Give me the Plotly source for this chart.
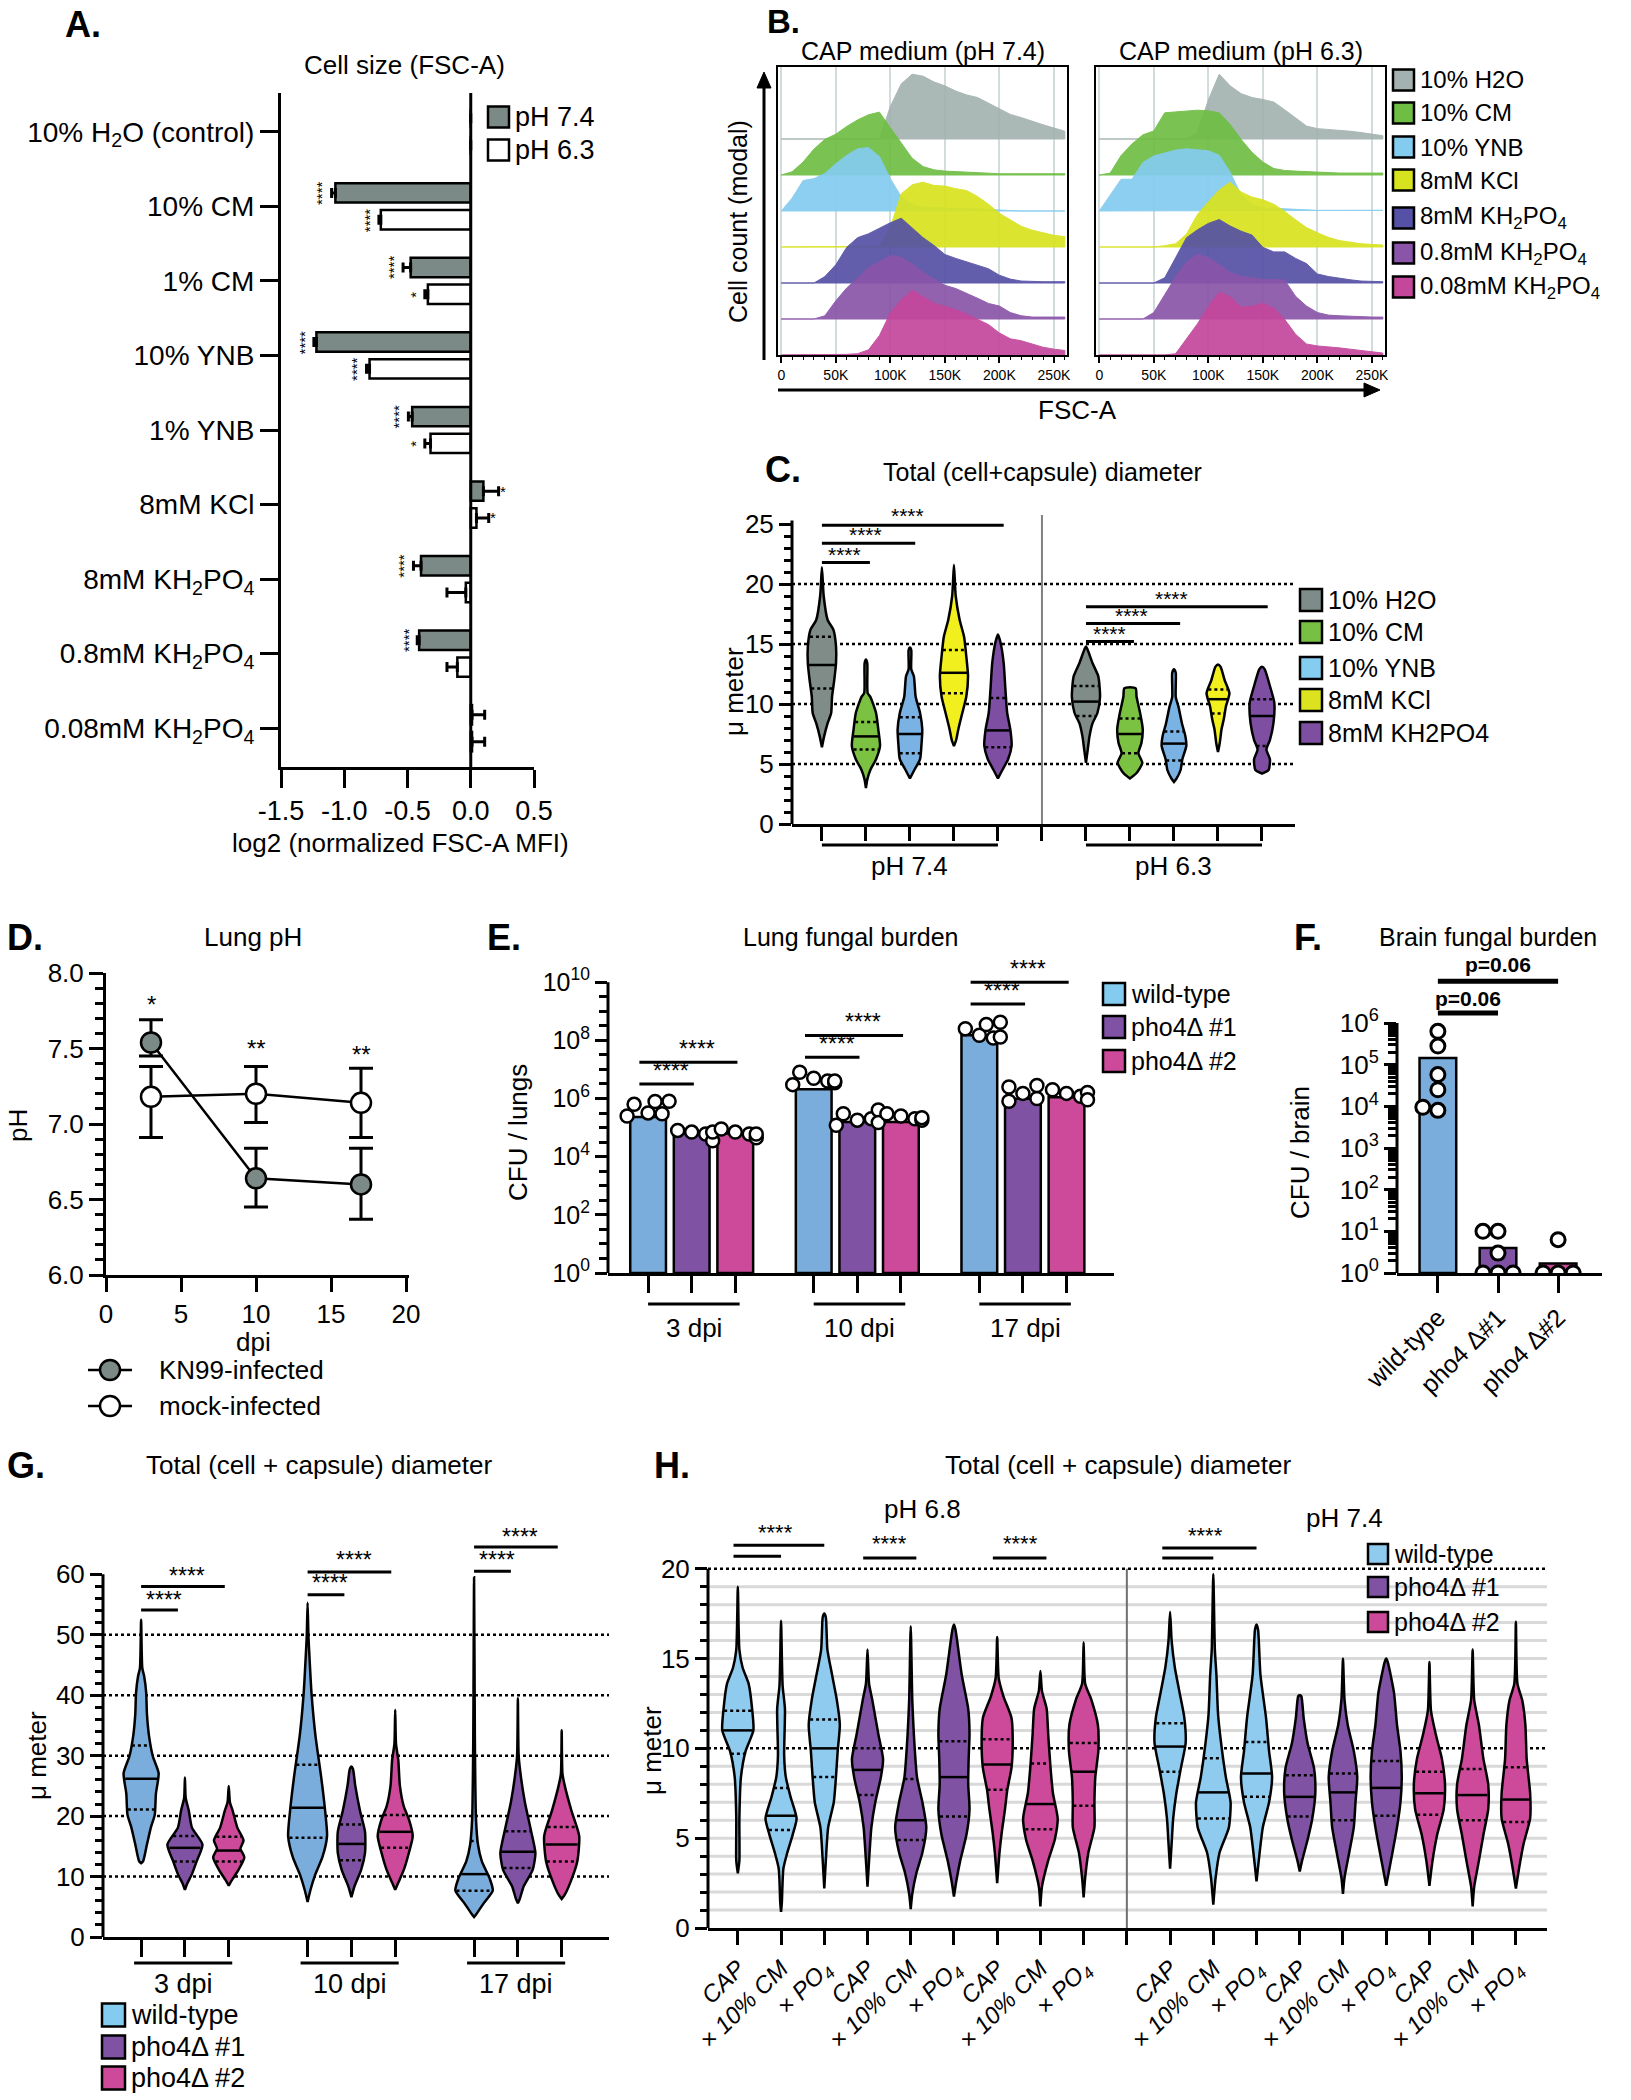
import numpy as np
import plotly.graph_objects as go

FIG_W, FIG_H = 1631, 2100
FONT = "Arial, Liberation Sans, Helvetica, sans-serif"

# ---------------- A. cell size (FSC-A) ----------------
A_labels = ['10% H<sub>2</sub>O (control)', '10% CM', '1% CM', '10% YNB', '1% YNB', '8mM KCl',
            '8mM KH<sub>2</sub>PO<sub>4</sub>', '0.8mM KH<sub>2</sub>PO<sub>4</sub>',
            '0.08mM KH<sub>2</sub>PO<sub>4</sub>']
A_ph74 = [0, -1.07, -0.475, -1.22, -0.463, 0.10, -0.393, -0.408, 0.01]
A_ph74_err = [0, 0.03, 0.06, 0.02, 0.03, 0.12, 0.06, 0.015, 0.10]
A_ph74_sig = ['', '****', '****', '****', '****', '*', '****', '****', '']
A_ph63 = [0, -0.711, -0.339, -0.80, -0.318, 0.045, -0.039, -0.106, 0.01]
A_ph63_err = [0, 0.015, 0.024, 0.024, 0.045, 0.097, 0.149, 0.082, 0.10]
A_ph63_sig = ['', '****', '*', '****', '*', '*', '', '', '']

# ---------------- B. FSC-A histograms (% of mode) ----------------
B_fsc_k = [0, 10, 20, 30, 40, 50, 60, 70, 80, 90, 100, 110, 120, 130, 140, 150, 160, 170, 180,
           190, 200, 210, 220, 230, 240, 250, 260]
B_labels = ['10% H2O', '10% CM', '10% YNB', '8mM KCl', '8mM KH<sub>2</sub>PO<sub>4</sub>',
            '0.8mM KH<sub>2</sub>PO<sub>4</sub>', '0.08mM KH<sub>2</sub>PO<sub>4</sub>']
B74_h2o = [0, 0, 0, 0, 0, 0, 0, 0, 0, 0, 50, 85, 100, 97, 88, 82, 74, 68, 64, 55, 46, 38, 33, 27, 22, 17, 12]
B74_cm = [0, 5, 20, 40, 55, 63, 75, 85, 93, 97, 73, 49, 26, 13, 8, 6, 5, 4, 3, 3, 2, 2, 2, 2, 2, 2, 2]
B74_ynb = [0, 20, 47, 50, 58, 73, 86, 96, 98, 84, 50, 22, 10, 6, 5, 5, 4, 4, 3, 2, 1, 0, 0, 0, 0, 0, 0]
B74_kcl = [0, 0, 0, 0, 1, 1, 1, 1, 1, 1, 30, 82, 96, 100, 95, 94, 90, 87, 78, 66, 52, 42, 32, 26, 22, 18, 16]
B74_kh8 = [0, 0, 0, 0, 10, 28, 55, 70, 76, 85, 93, 100, 85, 70, 58, 44, 38, 33, 28, 22, 12, 6, 3, 2, 2, 2, 2]
B74_kh08 = [0, 0, 0, 0, 5, 28, 48, 63, 80, 88, 98, 95, 85, 72, 62, 52, 47, 40, 32, 24, 20, 10, 5, 3, 3, 3, 3]
B74_kh008 = [0, 0, 0, 0, 0, 0, 1, 2, 8, 30, 65, 85, 100, 90, 80, 75, 70, 63, 55, 47, 34, 25, 22, 17, 12, 9, 7]
B63_h2o = [0, 0, 0, 0, 0, 0, 0, 0, 0, 10, 60, 100, 82, 70, 64, 61, 57, 45, 32, 20, 16, 15, 13, 12, 10, 7, 5]
B63_cm = [0, 3, 30, 48, 62, 68, 96, 97, 98, 100, 99, 96, 78, 55, 35, 20, 10, 7, 6, 5, 4, 3, 3, 3, 3, 3, 3]
B63_ynb = [0, 25, 49, 49, 75, 85, 90, 94, 96, 95, 93, 86, 60, 25, 10, 5, 4, 3, 2, 2, 1, 1, 1, 1, 1, 1, 1]
B63_kcl = [0, 0, 0, 0, 0, 0, 2, 5, 20, 50, 70, 88, 100, 85, 77, 73, 66, 55, 42, 30, 22, 15, 10, 7, 5, 4, 3]
B63_kh8 = [0, 0, 0, 0, 0, 0, 8, 40, 70, 82, 92, 98, 88, 80, 74, 55, 48, 48, 38, 30, 14, 10, 7, 5, 3, 2, 2]
B63_kh08 = [0, 0, 0, 0, 0, 10, 38, 65, 88, 100, 95, 83, 72, 66, 63, 61, 61, 60, 35, 20, 10, 6, 5, 4, 3, 3, 3]
B63_kh008 = [0, 0, 0, 0, 0, 0, 0, 2, 25, 48, 75, 97, 90, 74, 75, 80, 72, 55, 32, 17, 14, 13, 11, 9, 7, 5, 3]

# ---------------- C. total diameter, violins (value, half-width) ----------------
C_labels = ['10% H2O', '10% CM', '10% YNB', '8mM KCl', '8mM KH2PO4']
C_h2o_74 = [(21.4, 0), (19.0, .04), (17.0, .13), (16.2, .26), (14.8, .32), (13.4, .32), (12.0, .28),
            (10.6, .23), (9.25, .21), (8.4, .13), (7.3, .05), (6.4, 0)]
C_cm_74 = [(13.7, 0), (13.4, .03), (10.9, .04), (10.6, .10), (9.25, .23), (7.9, .28), (6.5, .32),
           (5.4, .23), (4.5, .10), (3.7, .03), (3.0, 0)]
C_ynb_74 = [(14.7, 0), (14.5, .03), (12.9, .03), (12.3, .09), (10.6, .13), (9.25, .23), (7.9, .28),
            (6.5, .26), (5.4, .23), (4.5, .10), (3.8, 0)]
C_kcl_74 = [(21.6, 0), (19.0, .04), (17.0, .13), (15.6, .23), (14.0, .28), (12.3, .32), (10.6, .28),
            (9.25, .19), (7.9, .10), (7.0, .05), (6.5, 0)]
C_kh_74 = [(15.8, 0), (15.1, .06), (13.4, .13), (11.2, .17), (9.25, .21), (7.9, .28), (6.5, .31),
           (5.4, .23), (4.5, .10), (3.8, 0)]
C_h2o_63 = [(14.8, 0), (14.5, .04), (13.4, .15), (12.3, .28), (10.6, .32), (9.25, .26), (8.4, .15),
            (7.3, .08), (6.2, .04), (5.1, 0)]
C_cm_63 = [(11.4, 0), (11.3, .13), (10.6, .15), (9.25, .23), (7.9, .29), (6.75, .26), (5.9, .19),
           (5.1, .28), (4.25, .15), (3.8, 0)]
C_ynb_63 = [(12.9, 0), (12.6, .04), (10.6, .04), (9.8, .10), (8.4, .18), (7.3, .26), (6.5, .28),
            (5.4, .19), (4.5, .15), (3.8, .06), (3.5, 0)]
C_kcl_63 = [(13.3, 0), (13.1, .06), (12.0, .15), (10.9, .26), (9.8, .18), (8.7, .13), (7.9, .08),
            (6.75, .04), (6.0, 0)]
C_kh_63 = [(13.1, 0), (12.9, .06), (11.5, .18), (10.1, .28), (8.4, .26), (7.0, .18), (6.2, .10),
           (5.4, .18), (4.5, .15), (4.2, 0)]
C_q1 = [11.3, 6.2, 5.9, 10.9, 6.4, 9.0, 5.9, 5.3, 9.2, 6.5]
C_median = [13.25, 7.3, 7.5, 12.6, 7.8, 10.2, 7.5, 6.7, 10.4, 9.0]
C_q3 = [15.6, 8.5, 8.9, 14.5, 10.5, 11.5, 8.8, 7.7, 11.2, 10.4]

# ---------------- D. lung pH ----------------
D_dpi = [3, 10, 17]
D_kn99 = [7.54, 6.64, 6.60]
D_kn99_up = [0.15, 0.20, 0.24]
D_kn99_dn = [0.09, 0.19, 0.23]
D_mock = [7.18, 7.20, 7.14]
D_mock_up = [0.20, 0.18, 0.23]
D_mock_dn = [0.27, 0.19, 0.23]
D_sig = ['*', '**', '**']
D_sig_y = [7.79, 7.50, 7.46]

# ---------------- E. lung fungal burden (CFU) ----------------
E_days = ['3 dpi', '10 dpi', '17 dpi']
E_strains = ['wild-type', 'pho4Δ #1', 'pho4Δ #2']
E_bar = [2.3e5, 6.2e4, 6.2e4, 2.1e6, 1.55e5, 1.55e5, 1.5e8, 9.8e5, 1.1e6]
E_wt_3 = [3.2e5, 6.3e5, 7.9e5, 8.0e5, 3.0e5, 2.5e5]
E_p1_3 = [7.0e4, 8.0e4, 6.0e4, 3.5e4, 7.0e4]
E_p2_3 = [7.0e4, 9.0e4, 6.0e4, 4.5e4, 6.0e4]
E_wt_10 = [5.0e6, 8.0e6, 4.0e6, 3.5e6, 3.0e6, 4.0e6]
E_p1_10 = [1.8e5, 3.0e5, 2.0e5, 4.0e5, 1.2e5, 1.5e5]
E_p2_10 = [2.5e5, 3.0e5, 2.0e5, 1.8e5, 2.2e5]
E_wt_17 = [1.5e8, 2.5e8, 1.2e8, 3.5e8, 1.3e8, 4.2e8]
E_p1_17 = [1.5e6, 2.5e6, 1.0e6, 2.8e6, 8.0e5]
E_p2_17 = [1.5e6, 2.0e6, 1.2e6, 1.6e6, 9.0e5]

# ---------------- F. brain fungal burden (CFU) ----------------
F_labels = ['wild-type', 'pho4 Δ#1', 'pho4 Δ#2']
F_bar = [1.45e5, 4.0, 1.7]
F_wt = [6.3e5, 2.8e5, 5.8e4, 2.5e4, 8.0e3, 9.5e3]
F_p1 = [10, 10, 3, 1, 1, 1]
F_p2 = [6.3, 1, 1, 1]

# ---------------- G. in vivo diameter, violins ----------------
G_wt_3 = [(52.5, 0), (44.5, .027), (43.1, .071), (40.4, .116), (36.9, .133), (33.4, .178), (29.9, .267),
          (27.1, .40), (23.7, .338), (20.2, .311), (18.1, .222), (15.3, .133), (12.5, .044), (12.2, 0)]
G_p1_3 = [(26.4, 0), (23.0, .018), (20.9, .089), (18.1, .16), (15.3, .40), (12.5, .267), (10.4, .16),
          (8.7, .044), (7.8, 0)]
G_p2_3 = [(25.0, 0), (22.3, .027), (20.9, .089), (18.1, .196), (16.0, .338), (14.6, .267), (13.2, .356),
          (11.1, .222), (9.4, .071), (8.5, 0)]
G_wt_10 = [(55.3, 0), (50.0, .018), (47.3, .036), (40.4, .089), (33.4, .178), (26.4, .311), (20.9, .40),
           (16.7, .444), (13.2, .338), (10.4, .178), (7.7, .062), (5.8, 0)]
G_p1_10 = [(28.2, 0), (27.8, .036), (25.0, .089), (20.9, .196), (17.4, .311), (13.9, .311), (11.1, .222),
           (8.4, .071), (6.6, 0)]
G_p2_10 = [(37.6, 0), (32.0, .018), (29.2, .071), (25.0, .107), (21.6, .196), (19.5, .311), (16.7, .40),
           (13.9, .311), (11.1, .196), (9.0, .071), (7.8, 0)]
G_wt_17 = [(59.5, 0), (33.0, .018), (26.4, .027), (19.5, .044), (15.3, .089), (12.5, .178), (9.7, .356),
           (7.7, .427), (5.6, .222), (3.8, .053), (3.3, 0)]
G_p1_17 = [(39.5, 0), (30.0, .018), (26.4, .071), (22.3, .16), (18.1, .284), (13.9, .40), (11.1, .338),
           (8.4, .133), (6.3, .044), (5.6, 0)]
G_p2_17 = [(34.2, 0), (27.0, .018), (25.0, .071), (20.9, .222), (16.7, .40), (12.5, .356), (9.0, .196),
           (7.0, .071), (6.3, 0)]
G_q1 = [21.1, 12.5, 12.5, 16.4, 12.7, 14.75, 7.65, 11.4, 12.5]
G_median = [26.2, 14.75, 14.3, 21.4, 15.4, 17.4, 10.4, 14.1, 15.3]
G_q3 = [31.7, 16.7, 16.6, 28.5, 18.6, 20.2, 15.9, 17.5, 18.2]

# ---------------- H. in vitro diameter, violins ----------------
H_media = ['<i>CAP</i>', '<i>× 10% CM</i>', '<i>× PO<sub>4</sub></i>']
H_v = [
    [(19.0, 0), (15.5, .036), (14.5, .11), (13.6, .25), (12.2, .33), (11.0, .36), (9.85, .18), (8.4, .072), (6.1, .036), (3.75, .036), (3.05, 0)],
    [(17.1, 0), (13.5, .036), (12.2, .09), (9.6, .072), (8.4, .11), (7.3, .22), (6.1, .36), (5.2, .27), (4.2, .145), (3.3, .054), (1.4, .018), (0.9, 0)],
    [(17.5, 0), (17.3, .036), (15.5, .072), (14.1, .18), (12.7, .29), (11.3, .36), (9.85, .31), (8.4, .27), (7.0, .22), (5.6, .09), (3.75, .036), (2.2, 0)],
    [(15.5, 0), (13.6, .036), (12.7, .11), (10.8, .25), (9.4, .36), (8.4, .31), (7.0, .18), (5.6, .09), (3.75, .036), (2.3, 0)],
    [(16.8, 0), (12.7, .036), (10.8, .072), (8.4, .145), (7.0, .27), (5.6, .36), (4.2, .27), (3.05, .13), (1.9, .036), (1.05, 0)],
    [(16.9, 0), (16.6, .036), (14.1, .18), (12.2, .33), (10.8, .36), (9.4, .34), (8.0, .33), (6.6, .36), (5.2, .29), (3.75, .145), (2.6, .054), (1.75, 0)],
    [(16.2, 0), (13.9, .036), (12.9, .145), (11.7, .33), (10.3, .36), (8.9, .33), (7.7, .235), (6.6, .18), (5.4, .11), (4.2, .054), (2.5, 0)],
    [(14.3, 0), (13.2, .036), (12.2, .145), (10.8, .18), (8.9, .235), (7.5, .29), (6.1, .40), (4.9, .33), (3.75, .18), (2.3, .036), (1.2, 0)],
    [(15.9, 0), (13.6, .036), (12.7, .18), (11.3, .33), (9.85, .34), (8.4, .27), (7.0, .25), (5.6, .25), (4.2, .11), (2.8, .036), (1.7, 0)],
    [(17.6, 0), (16.0, .036), (14.5, .11), (13.1, .22), (11.7, .33), (10.3, .36), (8.9, .25), (7.5, .145), (6.1, .072), (4.7, .036), (3.3, 0)],
    [(19.7, 0), (15.5, .036), (14.1, .072), (11.9, .11), (10.3, .18), (8.4, .29), (7.0, .40), (5.6, .36), (4.2, .145), (2.8, .054), (1.3, 0)],
    [(16.9, 0), (16.6, .036), (14.1, .09), (11.7, .22), (9.85, .29), (8.4, .36), (7.0, .29), (5.6, .145), (4.2, .072), (2.6, 0)],
    [(12.95, 0), (12.9, .036), (11.7, .09), (10.3, .18), (8.9, .33), (7.5, .36), (6.1, .29), (4.9, .18), (3.75, .054), (3.15, 0)],
    [(15.0, 0), (12.7, .036), (11.3, .11), (9.85, .25), (8.4, .33), (7.0, .29), (5.6, .25), (4.2, .145), (2.8, .036), (1.9, 0)],
    [(15.0, 0), (14.8, .036), (13.1, .18), (11.3, .25), (9.85, .33), (8.4, .36), (7.0, .33), (5.6, .25), (4.2, .145), (3.05, .054), (2.35, 0)],
    [(14.8, 0), (12.1, .036), (10.8, .145), (9.4, .29), (8.0, .36), (6.6, .33), (5.2, .18), (3.75, .072), (2.35, 0)],
    [(15.5, 0), (12.7, .036), (11.3, .145), (9.4, .25), (8.0, .36), (6.6, .36), (5.2, .25), (3.75, .145), (2.3, .036), (1.2, 0)],
    [(17.05, 0), (13.6, .036), (12.7, .145), (11.3, .22), (9.4, .25), (7.5, .33), (6.1, .33), (4.7, .18), (3.3, .072), (2.2, 0)],
]
H_q1 = [9.7, 5.45, 8.4, 7.4, 4.9, 6.2, 7.7, 5.5, 6.8, 8.7, 6.1, 7.3, 6.2, 6.0, 6.25, 6.3, 6.0, 5.9]
H_median = [11.0, 6.25, 10.0, 8.8, 6.0, 8.4, 9.1, 6.9, 8.7, 10.1, 7.55, 8.6, 7.3, 7.55, 7.8, 7.5, 7.4, 7.15]
H_q3 = [12.1, 7.8, 11.6, 10.0, 8.3, 10.4, 10.5, 9.15, 10.3, 11.4, 9.45, 10.35, 8.5, 8.6, 9.3, 8.7, 8.85, 8.95]

# ---------------- colours ----------------
GREY = '#7b8a86'
B_colors = ['#a3b2b0', '#6fbe44', '#84ccef', '#d8e31f', '#5551a6', '#8a55a9', '#c4479c']
C_colors = ['#7f8c88', '#7cc242', '#7ab2e3', '#f2ef1f', '#7e4ea3']
C_leg = ['#7e8c89', '#78c043', '#85cdf0', '#dce21e', '#7e4fa1']
WT, P1, P2 = '#7aacdc', '#7f52a3', '#cc4a99'
H_WT = '#8fcbef'

fig = go.Figure()
shapes, annos, axes = [], [], {}


def add_axes(n, xdom, ydom, xkw, ykw):
    xr = 'x' if n == 1 else f'x{n}'
    yr = 'y' if n == 1 else f'y{n}'
    for key, dom, anchor, kw in (('xaxis', [xdom[0] / FIG_W, xdom[1] / FIG_W], yr, xkw),
                                 ('yaxis', [1 - ydom[1] / FIG_H, 1 - ydom[0] / FIG_H], xr, ykw)):
        d = dict(showline=True, linecolor='black', linewidth=3, ticks='outside', tickcolor='black',
                 tickwidth=3, ticklen=14, showgrid=False, zeroline=False, automargin=False,
                 tickfont=dict(size=26, family=FONT, color='black'))
        d.update(kw)
        d['domain'] = dom
        d['anchor'] = anchor
        axes[key if n == 1 else f'{key}{n}'] = d
    return xr, yr


def text(x, y, s, size=26, xanchor='center', angle=0, bold=False):
    annos.append(dict(x=x / FIG_W, y=1 - y / FIG_H, xref='paper', yref='paper', showarrow=False,
                      text=f'<b>{s}</b>' if bold else s, xanchor=xanchor, yanchor='middle',
                      textangle=angle, font=dict(size=size, family=FONT, color='black')))


def dtext(xr, yr, x, y, s, size=22, angle=0, bold=False, xanchor='center'):
    annos.append(dict(x=x, y=y, xref=xr, yref=yr, showarrow=False, text=f'<b>{s}</b>' if bold else s,
                      textangle=angle, xanchor=xanchor, yanchor='middle',
                      font=dict(size=size, family=FONT, color='black')))


def group_label(xr, x, y, s, size=26):
    annos.append(dict(x=x, y=1 - y / FIG_H, xref=xr, yref='paper', showarrow=False, text=s,
                      xanchor='center', yanchor='middle', font=dict(size=size, family=FONT, color='black')))


def line(xr, yr, x0, x1, y0, y1, width=3, color='black', dash='solid', layer='above'):
    shapes.append(dict(type='line', xref=xr, yref=yr, x0=x0, x1=x1, y0=y0, y1=y1, layer=layer,
                       line=dict(color=color, width=width, dash=dash)))


def pline(x0, y0, x1, y1, width=3):
    line('paper', 'paper', x0 / FIG_W, x1 / FIG_W, 1 - y0 / FIG_H, 1 - y1 / FIG_H, width)


def ppath(points):
    d = 'M ' + ' L '.join(f'{x / FIG_W:.5f},{1 - y / FIG_H:.5f}' for x, y in points) + ' Z'
    shapes.append(dict(type='path', xref='paper', yref='paper', path=d, fillcolor='black',
                       line=dict(color='black', width=1)))


def legend_box(x, y, size, color, label, fsize=25):
    shapes.append(dict(type='rect', xref='paper', yref='paper', x0=x / FIG_W, x1=(x + size) / FIG_W,
                       y0=1 - (y + size / 2) / FIG_H, y1=1 - (y - size / 2) / FIG_H,
                       fillcolor=color, line=dict(color='black', width=2.5)))
    text(x + size + 4, y, label, fsize, xanchor='left')


def violins(xr, yr, centers, profiles, q1s, meds, q3s, colors):
    mx, my, qx, qy = [], [], [], []
    for xc, prof, q1, m, q3, col in zip(centers, profiles, q1s, meds, q3s, colors):
        ys = [p[0] for p in prof]
        ws = [p[1] for p in prof]
        xs = [xc + w for w in ws] + [xc - w for w in ws[::-1]]
        fig.add_trace(go.Scatter(x=xs, y=ys + ys[::-1], mode='lines', fill='toself', fillcolor=col,
                                 line=dict(color='black', width=2.5, shape='spline', smoothing=0.6),
                                 xaxis=xr, yaxis=yr, hoverinfo='skip'))
        ya, wa = ys[::-1], ws[::-1]
        for lvl, tx, ty in ((m, mx, my), (q1, qx, qy), (q3, qx, qy)):
            w = float(np.interp(lvl, ya, wa)) * 0.95
            tx += [xc - w, xc + w, None]
            ty += [lvl, lvl, None]
    fig.add_trace(go.Scatter(x=mx, y=my, mode='lines', line=dict(color='black', width=2.5),
                             xaxis=xr, yaxis=yr, hoverinfo='skip'))
    fig.add_trace(go.Scatter(x=qx, y=qy, mode='lines', line=dict(color='black', width=2.5, dash='dot'),
                             xaxis=xr, yaxis=yr, hoverinfo='skip'))


def swarm(vals, xc, xscale, yscale, diam):
    placed, xs = [], []
    for v in vals:
        for k in [0, -1, 1, -2, 2, -3, 3]:
            dx = k * 0.5 * diam / xscale
            if all(((dx - a) * xscale) ** 2 + ((v - b) * yscale) ** 2 >= (0.9 * diam) ** 2 for a, b in placed):
                break
        placed.append((dx, v))
        xs.append(xc + dx)
    return xs


# ======================= A =======================
xa, ya = add_axes(1, (281, 534), (93, 767),
                  dict(range=[-1.5, 0.5], tickvals=[-1.5, -1.0, -0.5, 0.0, 0.5],
                       ticktext=['-1.5', '-1.0', '-0.5', '0.0', '0.5'], ticklen=18,
                       tickfont=dict(size=27, family=FONT, color='black')),
                  dict(range=[8.52, -0.52], tickvals=list(range(9)), ticktext=A_labels, ticklen=18,
                       tickfont=dict(size=28, family=FONT, color='black')))
idx = np.arange(len(A_labels))
for vals, errs, sig, off, col in ((A_ph74, A_ph74_err, A_ph74_sig, -0.18, GREY),
                                   (A_ph63, A_ph63_err, A_ph63_sig, 0.18, 'white')):
    plus = [e if v >= 0 else 0 for v, e in zip(vals, errs)]
    minus = [e if v < 0 else 0 for v, e in zip(vals, errs)]
    fig.add_trace(go.Bar(x=vals, y=idx + off, orientation='h', width=0.26, marker_color=col,
                         marker_line=dict(color='black', width=2.5), xaxis=xa, yaxis=ya,
                         error_x=dict(type='data', symmetric=False, array=plus, arrayminus=minus,
                                      color='black', thickness=3, width=5)))
    for i, (v, e, s) in enumerate(zip(vals, errs, sig)):
        if not s:
            continue
        if v < 0:
            dtext(xa, ya, v - e - 0.075, i + off, s, size=15, angle=-90)
        else:
            dtext(xa, ya, v + e + 0.035, i + off, s, size=15)
line(xa, ya, 0, 0, -0.52, 8.52, width=3)
text(404, 65, 'Cell size (FSC-A)', 26)
text(400, 843, 'log2 (normalized FSC-A MFI)', 26)
text(83, 25, 'A.', 36, bold=True)
legend_box(488, 117, 21, GREY, 'pH 7.4', 27)
legend_box(488, 150, 21, 'white', 'pH 6.3', 27)

# ======================= B =======================
B_fsc = [k * 1000 for k in B_fsc_k]
B_sets = [(2, (778, 1067), [B74_h2o, B74_cm, B74_ynb, B74_kcl, B74_kh8, B74_kh08, B74_kh008], 'CAP medium (pH 7.4)'),
          (3, (1096, 1385), [B63_h2o, B63_cm, B63_ynb, B63_kcl, B63_kh8, B63_kh08, B63_kh008], 'CAP medium (pH 6.3)')]
for n, xd, series, title in B_sets:
    xr, yr = add_axes(n, xd, (67, 355),
                      dict(range=[-3000, 262000], tickvals=[0, 50000, 100000, 150000, 200000, 250000],
                           ticktext=['0', '50K', '100K', '150K', '200K', '250K'], ticklen=6, tickwidth=1.5,
                           linewidth=2, mirror=True, showgrid=True, gridcolor='#d3dcdc', gridwidth=1.5,
                           tickfont=dict(size=14, family=FONT, color='black'),
                           minor=dict(tickmode='array', tickvals=[k * 1000 for k in B_fsc_k if k % 50],
                                      ticks='outside', ticklen=3, tickwidth=1, tickcolor='black')),
                      dict(range=[0, 8], ticks='', showticklabels=False, linewidth=2, mirror=True))
    for row, (vals, col) in enumerate(zip(series, B_colors)):
        base = 6 - row
        top = [base + v / 100 * 1.8 for v in vals]
        fig.add_trace(go.Scatter(x=B_fsc + B_fsc[::-1], y=top + [base] * len(B_fsc), mode='lines',
                                 fill='toself', fillcolor=col, opacity=0.92, line=dict(color=col, width=1),
                                 xaxis=xr, yaxis=yr, hoverinfo='skip'))
    text((xd[0] + xd[1]) / 2, 51, title, 25)
for i, (lab, col) in enumerate(zip(B_labels, B_colors)):
    legend_box(1393, [80, 113, 147, 180, 218, 253, 287][i], 21, col, lab, 24)
pline(764, 360, 764, 84, width=3)
ppath([(764, 72), (757, 88), (771, 88)])
pline(778, 390, 1366, 390, width=3)
ppath([(1380, 390), (1364, 383), (1364, 397)])
text(738, 222, 'Cell count (modal)', 25, angle=-90)
text(1077, 410, 'FSC-A', 26)
text(783, 21, 'B.', 33, bold=True)

# ======================= C =======================
C_x = [0, 1, 2, 3, 4, 6, 7, 8, 9, 10]
xr, yr = add_axes(4, (792, 1295), (500, 824),
                  dict(range=[-0.68, 10.75], tickvals=list(range(11)), showticklabels=False, ticklen=14),
                  dict(range=[0, 27], tickvals=[0, 5, 10, 15, 20, 25], showline=False, ticklen=12,
                       minor=dict(tickmode='array', tickvals=[v for v in range(1, 25) if v % 5],
                                  ticks='outside', ticklen=7, tickwidth=2.5, tickcolor='black')))
line(xr + ' domain', yr, 0, 0, 0, 25.3)
for g in (5, 10, 15, 20):
    line(xr + ' domain', yr, 0, 1, g, g, width=2.5, dash='dot', layer='below')
line(xr, yr, 5, 5, 0, 25.75, width=2, color='#808080', layer='below')
violins(xr, yr, C_x, [C_h2o_74, C_cm_74, C_ynb_74, C_kcl_74, C_kh_74,
                      C_h2o_63, C_cm_63, C_ynb_63, C_kcl_63, C_kh_63],
        C_q1, C_median, C_q3, C_colors * 2)
for y0, x1, ty, tx in ((21.8, 1.09, 22.5, 0.51), (23.4, 2.12, 24.1, 0.99), (24.9, 4.13, 25.7, 1.95),
                       (15.2, 7.09, 15.9, 6.54), (16.7, 8.14, 17.4, 7.03), (18.1, 10.13, 18.8, 7.95)):
    x0 = 0 if x1 < 5 else 6
    line(xr, yr, x0, x1, y0, y0, width=3)
    dtext(xr, yr, tx, ty, '****', size=21)
for x0, x1, lab in ((0, 4, 'pH 7.4'), (6, 10, 'pH 6.3')):
    line(xr, 'paper', x0, x1, 1 - 845 / FIG_H, 1 - 845 / FIG_H, width=3)
    group_label(xr, (x0 + x1) / 2, 866, lab)
text(1042, 472, 'Total (cell+capsule) diameter', 25)
text(734, 692, 'μ meter', 26, angle=-90)
text(783, 470, 'C.', 36, bold=True)
for i, (lab, col) in enumerate(zip(C_labels, C_leg)):
    legend_box(1300, [600, 632, 668, 700, 733][i], 22, col, lab, 25)

# ======================= D =======================
xr, yr = add_axes(5, (106, 409), (973, 1275),
                  dict(range=[0, 20.2], tickvals=[0, 5, 10, 15, 20], ticklen=14),
                  dict(range=[6, 8], tickvals=[6, 6.5, 7, 7.5, 8], tickformat='.1f', ticklen=14,
                       minor=dict(tickmode='array', tickvals=[6 + k / 10 for k in range(1, 20) if k % 5],
                                  ticks='outside', ticklen=8, tickwidth=2.5, tickcolor='black')))
for vals, up, dn, col in ((D_mock, D_mock_up, D_mock_dn, 'white'), (D_kn99, D_kn99_up, D_kn99_dn, GREY)):
    fig.add_trace(go.Scatter(x=D_dpi, y=vals, mode='lines+markers', line=dict(color='black', width=2.5),
                             marker=dict(size=20, color=col, line=dict(color='black', width=2.5)),
                             error_y=dict(type='data', symmetric=False, array=up, arrayminus=dn,
                                          color='black', thickness=3, width=12),
                             xaxis=xr, yaxis=yr, hoverinfo='skip'))
for d, s, y in zip(D_dpi, D_sig, D_sig_y):
    dtext(xr, yr, d, y, s, size=24)
text(253, 937, 'Lung pH', 26)
text(253, 1342, 'dpi', 26)
text(18, 1126, 'pH', 26, angle=-90)
text(25, 937, 'D.', 36, bold=True)
for y, col, lab in ((1370, GREY, 'KN99-infected'), (1406, 'white', 'mock-infected')):
    pline(88, y, 132, y, width=2.5)
    shapes.append(dict(type='circle', xref='paper', yref='paper', x0=100 / FIG_W, x1=120 / FIG_W,
                       y0=1 - (y + 10) / FIG_H, y1=1 - (y - 10) / FIG_H, fillcolor=col,
                       line=dict(color='black', width=2.5)))
    text(157, y, lab, 26, xanchor='left')

# ======================= E =======================
E_x = [g * 3.8 + b for g in range(3) for b in range(3)]
E_cols = [WT, P1, P2] * 3
xr, yr = add_axes(6, (608, 1114), (956, 1273),
                  dict(range=[-0.92, 10.69], tickvals=E_x, showticklabels=False, ticklen=17),
                  dict(range=[0, 10.9], tickvals=[0, 2, 4, 6, 8, 10], showline=False, ticklen=12,
                       ticktext=[f'10<sup>{n}</sup>' for n in (0, 2, 4, 6, 8, 10)],
                       tickfont=dict(size=25, family=FONT, color='black'),
                       minor=dict(tickmode='array', tickvals=[k / 2 for k in range(1, 20) if k % 4],
                                  ticks='outside', ticklen=8, tickwidth=2.5, tickcolor='black')))
line(xr + ' domain', yr, 0, 0, 0, 10)
fig.add_trace(go.Bar(x=E_x, y=np.log10(E_bar), width=0.82, marker_color=E_cols,
                     marker_line=dict(color='black', width=2.5), xaxis=xr, yaxis=yr, hoverinfo='skip'))
for xc, pts in zip(E_x, [E_wt_3, E_p1_3, E_p2_3, E_wt_10, E_p1_10, E_p2_10, E_wt_17, E_p1_17, E_p2_17]):
    lv = list(np.log10(pts))
    fig.add_trace(go.Scatter(x=swarm(lv, xc, 43.6, 29.1, 14), y=lv, mode='markers',
                             marker=dict(size=13, color='white', line=dict(color='black', width=2.5)),
                             xaxis=xr, yaxis=yr, hoverinfo='skip', cliponaxis=False))
for g in range(3):
    x0 = g * 3.8
    for b, y0, ty in ((1, [6.5, 7.42, 9.25][g], [6.95, 7.87, 9.7][g]), (2, [7.25, 8.17, 10.0][g], [7.7, 8.62, 10.45][g])):
        line(xr, yr, x0 - 0.2, x0 + b + 0.05, y0, y0, width=3)
        dtext(xr, yr, x0 + (b + 0.05) / 2 + (0.1 if b == 2 else 0), ty, '****', size=23)
    line(xr, 'paper', x0, x0 + 2.1, 1 - 1304 / FIG_H, 1 - 1304 / FIG_H, width=3)
    group_label(xr, x0 + 1.05, 1328, E_days[g])
text(850, 937, 'Lung fungal burden', 25)
text(518, 1133, 'CFU / lungs', 26, angle=-90)
text(504, 937, 'E.', 36, bold=True)
for i, (lab, col) in enumerate(zip(E_strains, ['#84ccef', P1, P2])):
    legend_box(1103, [994, 1027, 1061][i], 22, col, lab, 25)

# ======================= F =======================
F_x = [0, 1, 2]
xr, yr = add_axes(7, (1397, 1602), (948, 1273),
                  dict(range=[-0.68, 2.73], tickvals=F_x, ticktext=F_labels, tickangle=-45, ticklen=17,
                       tickfont=dict(size=25, family=FONT, color='black')),
                  dict(range=[0, 7.8], tickvals=list(range(7)), showline=False, ticklen=12,
                       ticktext=[f'10<sup>{n}</sup>' for n in range(7)],
                       tickfont=dict(size=26, family=FONT, color='black'),
                       minor=dict(tickmode='array', tickvals=[float(np.log10(k * 10 ** n)) for n in range(6) for k in range(2, 10)],
                                  ticks='outside', ticklen=8, tickwidth=2.5, tickcolor='black')))
line(xr + ' domain', yr, 0, 0, 0, 6)
fig.add_trace(go.Bar(x=F_x, y=np.log10(F_bar), width=0.61, marker_color=[WT, P1, P2],
                     marker_line=dict(color='black', width=2.5), xaxis=xr, yaxis=yr, hoverinfo='skip'))
for xc, pts in zip(F_x, [F_wt, F_p1, F_p2]):
    lv = list(np.log10(pts))
    fig.add_trace(go.Scatter(x=swarm(lv, xc, 60, 41.7, 15), y=lv, mode='markers',
                             marker=dict(size=14, color='white', line=dict(color='black', width=3)),
                             xaxis=xr, yaxis=yr, hoverinfo='skip'))
line(xr, yr, 0, 1, 6.24, 6.24, width=5)
dtext(xr, yr, 0.5, 6.58, 'p=0.06', size=21, bold=True)
line(xr, yr, 0, 2, 7.0, 7.0, width=5)
dtext(xr, yr, 1.0, 7.4, 'p=0.06', size=21, bold=True)
text(1488, 937, 'Brain fungal burden', 25)
text(1300, 1153, 'CFU / brain', 26, angle=-90)
text(1308, 937, 'F.', 36, bold=True)

# ======================= G =======================
G_x = E_x
xr, yr = add_axes(8, (103, 609), (1532, 1937),
                  dict(range=[-0.87, 10.68], tickvals=G_x, showticklabels=False, ticklen=17),
                  dict(range=[0, 67], tickvals=[0, 10, 20, 30, 40, 50, 60], showline=False, ticklen=12,
                       minor=dict(tickmode='array', tickvals=[v for v in range(2, 60, 2) if v % 10],
                                  ticks='outside', ticklen=7, tickwidth=2.5, tickcolor='black')))
line(xr + ' domain', yr, 0, 0, 0, 60)
for g in (10, 20, 30, 40, 50):
    line(xr + ' domain', yr, 0, 1, g, g, width=2.5, dash='dot', layer='below')
violins(xr, yr, G_x, [G_wt_3, G_p1_3, G_p2_3, G_wt_10, G_p1_10, G_p2_10, G_wt_17, G_p1_17, G_p2_17],
        G_q1, G_median, G_q3, [WT, P1, P2] * 3)
for g, (ya1, ta1, ya2, ta2) in enumerate(((54.1, 55.8, 58.0, 59.8), (56.6, 58.5, 60.4, 62.3), (60.5, 62.4, 64.5, 66.2))):
    x0 = g * 3.8
    line(xr, yr, x0, x0 + 0.84, ya1, ya1, width=3)
    dtext(xr, yr, x0 + 0.52, ta1, '****', size=23)
    line(xr, yr, x0, x0 + 1.91, ya2, ya2, width=3)
    dtext(xr, yr, x0 + 1.05, ta2, '****', size=23)
    line(xr, 'paper', x0 - 0.16, x0 + 2.08, 1 - 1963 / FIG_H, 1 - 1963 / FIG_H, width=3)
    group_label(xr, x0 + 0.96, 1984, E_days[g], size=27)
text(319, 1465, 'Total (cell + capsule) diameter', 26)
text(37, 1756, 'μ meter', 26, angle=-90)
text(26, 1465, 'G.', 36, bold=True)
for i, (lab, col) in enumerate(zip(E_strains, ['#84ccef', P1, P2])):
    legend_box(102, [2015, 2047, 2078][i], 23, col, lab, 27)

# ======================= H =======================
H_x = list(range(9)) + list(range(10, 19))
H_cols = ([H_WT] * 3 + [P1] * 3 + [P2] * 3) * 2
xr, yr = add_axes(9, (708, 1547), (1522, 1928),
                  dict(range=[-0.69, 18.72], tickvals=H_x + [9], ticktext=H_media * 6 + [' '], tickangle=-45,
                       ticklen=14, tickfont=dict(size=24, family=FONT, color='black')),
                  dict(range=[0, 22.6], tickvals=[0, 5, 10, 15, 20], showline=False, ticklen=12,
                       minor=dict(tickmode='array', tickvals=[v for v in range(1, 20) if v % 5],
                                  ticks='outside', ticklen=7, tickwidth=2.5, tickcolor='black')))
line(xr + ' domain', yr, 0, 0, 0, 20)
for g in range(1, 20):
    if g != 10:
        line(xr + ' domain', yr, 0, 1, g, g, width=3, color='#d9d9d9', layer='below')
for g in (10, 20):
    line(xr + ' domain', yr, 0, 1, g, g, width=2.5, dash='dot', layer='below')
line(xr, yr, 9, 9, 0, 20, width=2, color='#707070', layer='below')
violins(xr, yr, H_x, H_v, H_q1, H_median, H_q3, H_cols)
for x0, segs, tx, ty in ((0, [(1.0, 20.7), (2.0, 21.3)], 0.86, 22.0), (2.9, [(4.13, 20.6)], 3.52, 21.4),
                         (5.9, [(7.14, 20.6)], 6.54, 21.4), (9.92, [(11.0, 20.6), (12.0, 21.15)], 10.83, 21.85)):
    for x1, yy in segs:
        line(xr, yr, x0 - (0.1 if x0 in (0, 9.92) else 0), x1, yy, yy, width=3)
    dtext(xr, yr, tx, ty, '****', size=22)
text(1118, 1465, 'Total (cell + capsule) diameter', 26)
text(922, 1509, 'pH 6.8', 26)
text(1344, 1518, 'pH 7.4', 26)
text(652, 1751, 'μ meter', 26, angle=-90)
text(672, 1465, 'H.', 36, bold=True)
for i, (lab, col) in enumerate(zip(E_strains, [H_WT, P1, P2])):
    legend_box(1368, [1554, 1587, 1622][i], 20, col, lab, 25)

fig.update_layout(template='none', width=FIG_W, height=FIG_H, margin=dict(l=0, r=0, t=0, b=0),
                  showlegend=False, paper_bgcolor='white', plot_bgcolor='rgba(0,0,0,0)',
                  font=dict(family=FONT, color='black'), shapes=shapes, annotations=annos, **axes)
fig.write_html("out.html", config={'displayModeBar': False},
               post_script="document.body.style.margin='0px';")
